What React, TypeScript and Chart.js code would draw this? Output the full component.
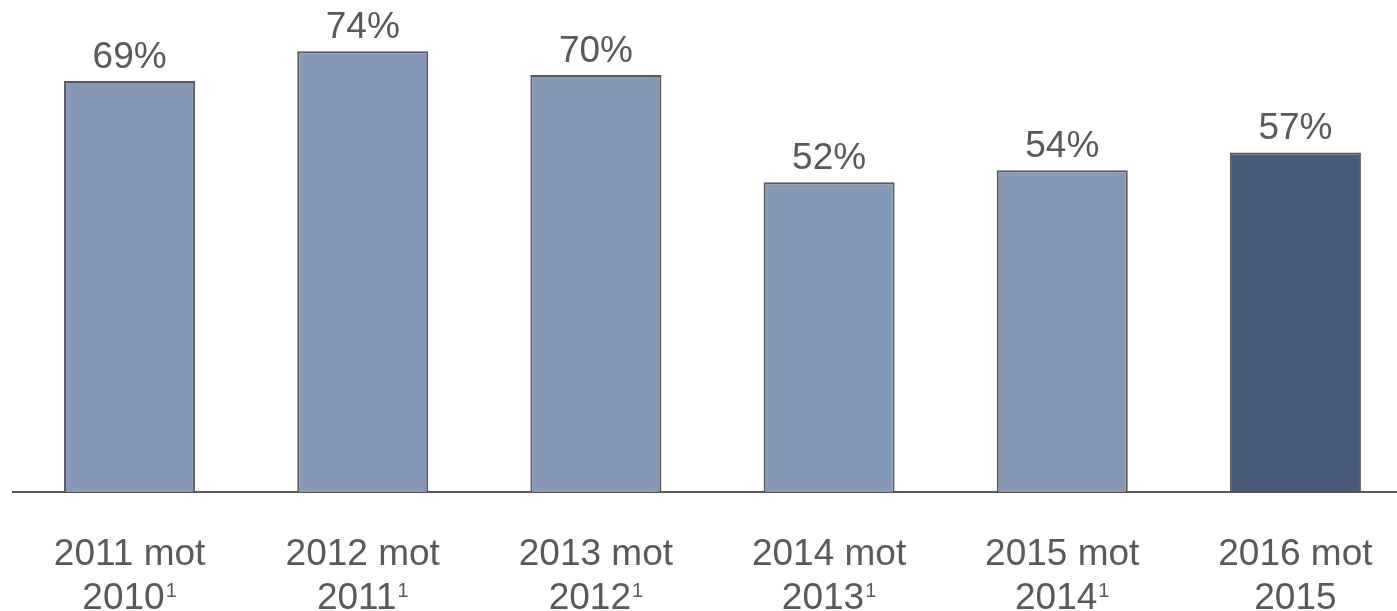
import React, { useEffect, useRef } from "react";
import { Chart, registerables } from "chart.js";

Chart.register(...registerables);

const periodLine1 = ["2011 mot", "2012 mot", "2013 mot", "2014 mot", "2015 mot", "2016 mot"];
const periodLine2 = ["2010", "2011", "2012", "2013", "2014", "2015"];
const footnoteMarks = ["1", "1", "1", "1", "1", ""];
const shareValues = [69, 74, 70, 52, 54, 57];
const highlightIndex = 5;

const LIGHT = "#8598B8";
const DARK = "#465978";
const TEXT = "#595959";
const FONT = "'Liberation Sans', Arial, sans-serif";

const valueLabelPlugin = {
  id: "valueLabels",
  afterDatasetsDraw(chart: any) {
    const ctx = chart.ctx;
    const meta = chart.getDatasetMeta(0);
    ctx.save();
    ctx.font = `37px ${FONT}`;
    ctx.fillStyle = TEXT;
    ctx.textAlign = "center";
    ctx.textBaseline = "alphabetic";
    meta.data.forEach((bar: any, i: number) => {
      ctx.fillText(`${shareValues[i]}%`, bar.x, bar.y - 13);
    });
    ctx.restore();
  },
};

const categoryLabelPlugin = {
  id: "categoryLabels",
  afterDraw(chart: any) {
    const ctx = chart.ctx;
    const xs = chart.scales.x;
    const top = xs.top;
    ctx.save();
    ctx.fillStyle = TEXT;
    ctx.textBaseline = "alphabetic";
    periodLine1.forEach((l1, i) => {
      const x = xs.getPixelForTick(i);
      ctx.font = `37px ${FONT}`;
      ctx.textAlign = "center";
      ctx.fillText(l1, x, top + 73);
      const main = periodLine2[i];
      const sup = footnoteMarks[i];
      const wMain = ctx.measureText(main).width;
      ctx.font = `20px ${FONT}`;
      const wSup = sup ? ctx.measureText(sup).width + 1 : 0;
      const start = x - (wMain + wSup) / 2;
      ctx.textAlign = "left";
      ctx.font = `37px ${FONT}`;
      ctx.fillText(main, start, top + 117);
      if (sup) {
        ctx.font = `20px ${FONT}`;
        ctx.fillText(sup, start + wMain + 1, top + 105);
      }
    });
    ctx.restore();
  },
};

export default function App() {
  const ref = useRef<HTMLCanvasElement | null>(null);
  useEffect(() => {
    if (!ref.current) return;
    const labels = periodLine1.map((l, i) => `${l} ${periodLine2[i]}${footnoteMarks[i]}`);
    const chart = new Chart(ref.current, {
      type: "bar",
      data: {
        labels,
        datasets: [
          {
            data: shareValues,
            backgroundColor: shareValues.map((_, i) => (i === highlightIndex ? DARK : LIGHT)),
            borderColor: TEXT,
            borderWidth: 2,
            categoryPercentage: 1,
            barPercentage: 0.562,
          },
        ],
      },
      options: {
        responsive: false,
        animation: false,
        layout: { padding: { left: 13, right: 8, top: 0, bottom: 0 } },
        plugins: { legend: { display: false }, tooltip: { enabled: false } },
        scales: {
          x: {
            grid: { display: false, drawTicks: false },
            border: { display: true, color: TEXT, width: 2 },
            ticks: { display: false },
            afterFit: (scale: any) => {
              scale.height = 119;
            },
          },
          y: {
            display: false,
            min: 0,
            max: 82.6,
          },
        },
      },
      plugins: [valueLabelPlugin, categoryLabelPlugin],
    });
    return () => chart.destroy();
  }, []);
  return (
    <div style={{ position: "absolute", left: 0, top: 0, width: 1397, height: 611, overflow: "hidden", background: "#fff" }}>
      <canvas ref={ref} width={1420} height={611} style={{ width: 1420, height: 611, display: "block" }} />
    </div>
  );
}
